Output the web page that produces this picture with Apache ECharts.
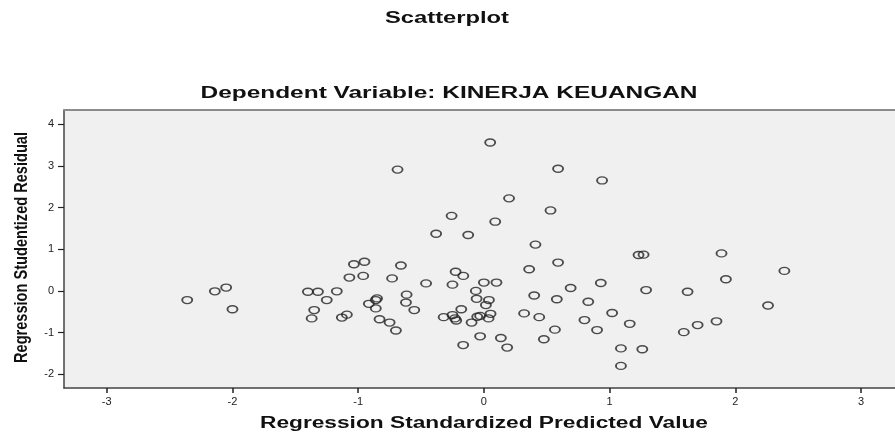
<!DOCTYPE html>
<html>
<head>
<meta charset="utf-8">
<script src="https://cdn.jsdelivr.net/npm/echarts@6/dist/echarts.min.js"></script>
<style>html,body{margin:0;padding:0;background:#fff}#c{width:895px;height:435px}</style>
</head>
<body>
<div id="c"></div>
<script>
// Regression Standardized Predicted Value
var predicted = [
  -2.36,-2.14,-2.05,-2.00,-1.40,-1.32,-1.25,-1.35,-1.37,-1.17,
  -1.09,-1.13,-1.034,-0.95,-1.07,-0.96,-0.66,-0.73,-0.85,-0.86,
  -0.615,-0.62,-0.915,-0.86,-0.554,-0.83,-0.75,-0.70,-0.687,-0.46,
  -0.225,-0.164,-0.25,-0.38,-0.125,-0.257,0.05,0.00,0.10,-0.064,
  -0.058,0.04,0.016,-0.18,-0.32,-0.25,-0.23,-0.22,-0.098,-0.053,
  -0.03,0.037,0.053,-0.03,-0.165,0.135,0.185,0.09,0.20,0.53,
  0.59,0.94,0.41,0.59,0.36,0.93,0.69,0.40,0.58,0.83,
  0.32,0.44,0.80,0.565,0.90,0.477,1.02,1.16,1.09,1.26,
  1.09,1.23,1.27,1.29,1.89,2.39,1.925,1.62,2.26,1.85,
  1.70,1.59
];
// Regression Studentized Residual
var residual = [
  -0.22,-0.01,0.08,-0.44,-0.02,-0.02,-0.22,-0.46,-0.66,-0.01,
  -0.57,-0.64,0.64,0.70,0.32,0.36,0.61,0.30,-0.18,-0.22,
  -0.09,-0.28,-0.31,-0.42,-0.46,-0.68,-0.76,-0.95,2.91,0.18,
  0.46,0.36,0.15,1.37,1.34,1.80,3.56,0.20,0.20,0.00,
  -0.19,-0.22,-0.34,-0.44,-0.63,-0.58,-0.66,-0.71,-0.76,-0.62,
  -0.60,-0.66,-0.55,-1.09,-1.30,-1.13,-1.36,1.66,2.22,1.93,
  2.93,2.65,1.11,0.68,0.52,0.19,0.07,-0.11,-0.20,-0.26,
  -0.54,-0.63,-0.70,-0.93,-0.94,-1.16,-0.53,-0.79,-1.38,-1.40,
  -1.80,0.86,0.87,0.02,0.90,0.48,0.28,-0.02,-0.35,-0.73,
  -0.82,-0.99
];
var xTicks = [-3,-2,-1,0,1,2,3];
var yTicks = [-2,-1,0,1,2,3,4];
var titleText = 'Scatterplot';
var subtitleText = 'Dependent Variable: KINERJA KEUANGAN';
var xName = 'Regression Standardized Predicted Value';
var yName = 'Regression Studentized Residual';

var points = predicted.map(function(v,i){return [v, residual[i]];});

var ctx = document.createElement('canvas').getContext('2d');
function fitScale(text, font, target){
  ctx.font = font;
  return target / ctx.measureText(text).width;
}
var FF = '"Liberation Sans", Arial, sans-serif';
function label(text, size, cx, cy, targetW, rot){
  var font = 'bold ' + size + 'px ' + FF;
  return {
    type:'text', x:cx, y:cy, rotation: rot||0,
    scaleX: fitScale(text, font, targetW), scaleY: 1,
    style:{text:text, font:font, fill:'#111', align:'center', verticalAlign:'middle',
           textAlign:'center', textVerticalAlign:'middle'}
  };
}

var chart = echarts.init(document.getElementById('c'), null, {renderer:'canvas'});
chart.setOption({
  animation:false,
  backgroundColor:'#ffffff',
  grid:{left:64, top:110, right:0, bottom:47, show:true, backgroundColor:'#f0f0f0',
        borderWidth:0},
  xAxis:[{
    type:'value', min:-3.34, max:3.27,
    axisLine:{show:true, onZero:false, lineStyle:{color:'#444', width:1.5}},
    axisTick:{show:true, customValues:xTicks, length:5, lineStyle:{color:'#222', width:1.5}},
    axisLabel:{customValues:xTicks, color:'#222', fontSize:11, fontFamily:FF, margin:8},
    splitLine:{show:false}
  },{
    type:'value', position:'top', min:-3.34, max:3.27,
    axisLine:{show:true, onZero:false, lineStyle:{color:'#8c8c8c', width:2}},
    axisTick:{show:false}, axisLabel:{show:false}, splitLine:{show:false}
  }],
  yAxis:{
    type:'value', min:-2.33, max:4.34,
    axisLine:{show:true, onZero:false, lineStyle:{color:'#444', width:1.5}},
    axisTick:{show:true, customValues:yTicks, length:6, lineStyle:{color:'#222', width:1.2}},
    axisLabel:{customValues:yTicks, color:'#222', fontSize:11, fontFamily:FF, margin:10},
    splitLine:{show:false}
  },
  graphic:[
    label(titleText, 16, 447, 19, 124),
    label(subtitleText, 16, 449, 94, 497),
    label(xName, 16, 484, 424, 448),
    label(yName, 19, 22, 247.5, 231, Math.PI/2)
  ],
  series:[{
    type:'scatter', xAxisIndex:0, data:points, symbol:'circle', symbolSize:[10,7],
    itemStyle:{color:'rgba(0,0,0,0)', borderColor:'#222', borderWidth:1.6},
    emphasis:{disabled:true}
  }]
});
</script>
</body>
</html>
